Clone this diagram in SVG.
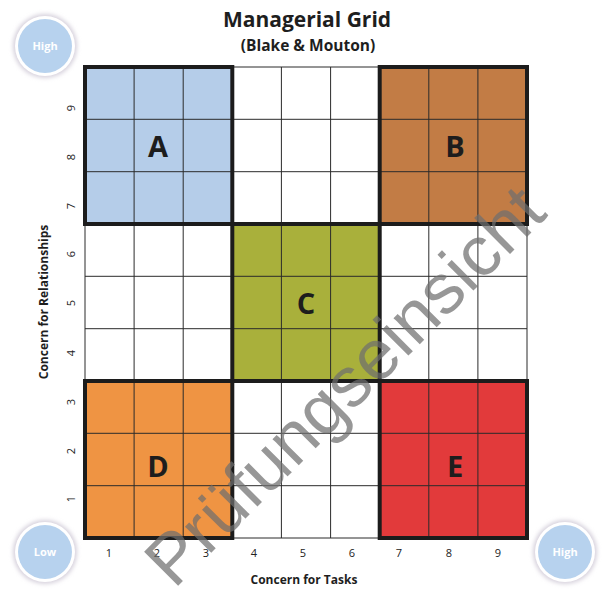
<svg xmlns="http://www.w3.org/2000/svg" width="609" height="600" viewBox="0 0 609 600">
<defs>
<filter id="halo" x="-30%" y="-30%" width="160%" height="160%"><feGaussianBlur stdDeviation="2"/></filter>
<style>
.t{font-family:"Open Sans","Liberation Sans",sans-serif;fill:#1e1e1e}
.b{font-weight:bold}
.num{font-family:"Open Sans","Liberation Sans",sans-serif;font-size:11px;fill:#222;text-anchor:middle}
.thin{stroke:#2b2b2b;stroke-width:1;fill:none}
.thick{stroke:#1c1c1c;stroke-width:4;fill:none}
.letter{font-family:"Open Sans","Liberation Sans",sans-serif;font-weight:bold;font-size:29px;fill:#1d1d1d;text-anchor:middle}
.ct{font-family:"Open Sans","Liberation Sans",sans-serif;font-weight:bold;font-size:11px;fill:#ffffff;text-anchor:middle}
</style>
</defs>
<rect width="609" height="600" fill="#ffffff"/>

<g id="title">
<text class="t b" x="307" y="27" font-size="21" text-anchor="middle">Managerial Grid</text>
<text class="t b" x="308" y="51" font-size="15.5" text-anchor="middle">(Blake &amp; Mouton)</text>
</g>

<g id="block-A"><rect x="85" y="67" width="147.3" height="157" fill="#b5cde9"/></g>
<g id="block-B"><rect x="379.7" y="67" width="147.3" height="157" fill="#c27c45"/></g>
<g id="block-C"><rect x="232.3" y="224" width="147.4" height="157" fill="#a9b03b"/></g>
<g id="block-D"><rect x="85" y="381" width="147.3" height="157" fill="#ef9443"/></g>
<g id="block-E"><rect x="379.7" y="381" width="147.3" height="157" fill="#e23a3b"/></g>

<g id="grid" class="thin">
<path d="M85 67V538M134.1 67V538M183.2 67V538M232.3 67V538M281.4 67V538M330.6 67V538M379.7 67V538M428.8 67V538M477.9 67V538M527 67V538"/>
<path d="M85 67H527M85 119.3H527M85 171.7H527M85 224H527M85 276.3H527M85 328.7H527M85 381H527M85 433.3H527M85 485.7H527M85 538H527"/>
</g>
<g id="borders" class="thick">
<rect x="85" y="67" width="147.3" height="157"/>
<rect x="379.7" y="67" width="147.3" height="157"/>
<rect x="232.3" y="224" width="147.4" height="157"/>
<rect x="85" y="381" width="147.3" height="157"/>
<rect x="379.7" y="381" width="147.3" height="157"/>
</g>

<g id="labels">
<text class="letter" x="158" y="157">A</text>
<text class="letter" x="455" y="157">B</text>
<text class="letter" x="306" y="314">C</text>
<text class="letter" x="158" y="477">D</text>
<text class="letter" x="455" y="477">E</text>
</g>

<g id="y-axis">
<text class="num" transform="translate(75,108) rotate(-90)">9</text>
<text class="num" transform="translate(75,157) rotate(-90)">8</text>
<text class="num" transform="translate(75,206) rotate(-90)">7</text>
<text class="num" transform="translate(75,254) rotate(-90)">6</text>
<text class="num" transform="translate(75,303) rotate(-90)">5</text>
<text class="num" transform="translate(75,353) rotate(-90)">4</text>
<text class="num" transform="translate(75,402) rotate(-90)">3</text>
<text class="num" transform="translate(75,451) rotate(-90)">2</text>
<text class="num" transform="translate(75,499) rotate(-90)">1</text>
<text class="t b" font-size="12" text-anchor="middle" transform="translate(48,302) rotate(-90)">Concern for Relationships</text>
</g>

<g id="x-axis">
<text class="num" x="109" y="557">1</text>
<text class="num" x="157" y="557">2</text>
<text class="num" x="206" y="557">3</text>
<text class="num" x="254" y="557">4</text>
<text class="num" x="303" y="557">5</text>
<text class="num" x="352" y="557">6</text>
<text class="num" x="399" y="557">7</text>
<text class="num" x="449" y="557">8</text>
<text class="num" x="498" y="557">9</text>
<text class="t b" font-size="12" x="304" y="584" text-anchor="middle">Concern for Tasks</text>
</g>

<g id="circle-high-top">
<circle cx="45" cy="46" r="32" fill="#d6d0dc" filter="url(#halo)"/>
<circle cx="45" cy="46" r="30" fill="#ffffff"/>
<circle cx="45" cy="46" r="27" fill="#b7d2ee"/>
<text class="ct" x="45" y="50">High</text>
</g>
<g id="circle-low">
<circle cx="45" cy="552" r="32" fill="#d6d0dc" filter="url(#halo)"/>
<circle cx="45" cy="552" r="30" fill="#ffffff"/>
<circle cx="45" cy="552" r="27" fill="#b7d2ee"/>
<text class="ct" x="45" y="556">Low</text>
</g>
<g id="circle-high-bottom">
<circle cx="565" cy="552" r="32" fill="#d6d0dc" filter="url(#halo)"/>
<circle cx="565" cy="552" r="30" fill="#ffffff"/>
<circle cx="565" cy="552" r="27" fill="#b7d2ee"/>
<text class="ct" x="565" y="556">High</text>
</g>

<g id="watermark">
<text transform="translate(174,590) rotate(-45)" font-family="'Liberation Sans',Arial,sans-serif" font-size="70" fill="#6f6f6f" fill-opacity="0.72" textLength="530" lengthAdjust="spacingAndGlyphs">Prüfungseinsicht</text>
</g>
</svg>
